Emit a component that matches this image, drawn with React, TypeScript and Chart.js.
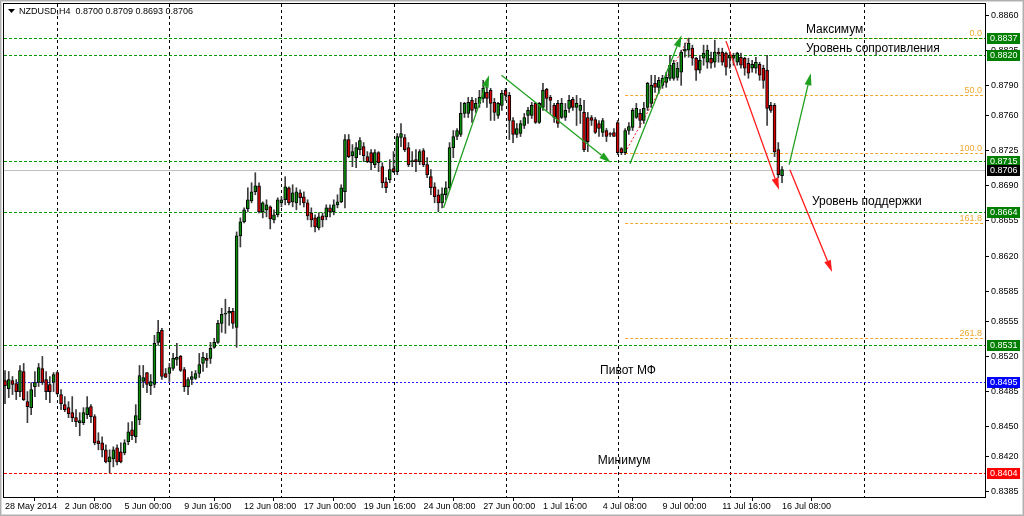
import React, { useEffect, useRef } from "react";
import { Chart, registerables } from "chart.js";
Chart.register(...registerables);

// ---- data (NZDUSD H4) ----
const opens = [
  0.8496,0.8488,0.8496,0.8493,0.8485,0.8505,0.8475,0.8469,0.8490,0.8494,
  0.8508,0.8497,0.8492,0.8494,0.8504,0.8482,0.8472,0.8469,0.8464,0.8459,
  0.8454,0.8454,0.8462,0.8470,0.8460,0.8436,0.8434,0.8427,0.8415,0.8418,
  0.8429,0.8425,0.8424,0.8435,0.8447,0.8440,0.8457,0.8495,0.8504,0.8491,
  0.8492,0.8534,0.8546,0.8503,0.8503,0.8508,0.8517,0.8520,0.8507,0.8490,
  0.8497,0.8498,0.8503,0.8513,0.8518,0.8518,0.8529,0.8534,0.8553,0.8562,
  0.8563,0.8565,0.8549,0.8640,0.8654,0.8667,0.8675,0.8684,0.8690,0.8664,
  0.8666,0.8669,0.8656,0.8661,0.8673,0.8676,0.8688,0.8674,0.8673,0.8683,
  0.8679,0.8673,0.8663,0.8658,0.8648,0.8660,0.8659,0.8668,0.8664,0.8671,
  0.8674,0.8684,0.8736,0.8720,0.8718,0.8726,0.8729,0.8719,0.8723,0.8711,
  0.8723,0.8709,0.8694,0.8696,0.8707,0.8704,0.8738,0.8738,0.8728,0.8714,
  0.8716,0.8714,0.8725,0.8711,0.8699,0.8689,0.8681,0.8673,0.8681,0.8688,
  0.8728,0.8739,0.8741,0.8762,0.8762,0.8775,0.8767,0.8772,0.8777,0.8783,
  0.8785,0.8773,0.8760,0.8770,0.8785,0.8780,0.8755,0.8741,0.8742,0.8750,
  0.8760,0.8760,0.8772,0.8753,0.8768,0.8786,0.8778,0.8770,0.8772,0.8758,
  0.8758,0.8767,0.8776,0.8768,0.8765,0.8763,0.8758,0.8758,0.8756,0.8752,
  0.8743,0.8745,0.8742,0.8743,0.8753,0.8727,0.8723,0.8745,0.8748,0.8758,
  0.8762,0.8755,0.8768,0.8772,0.8792,0.8788,0.8790,0.8793,0.8797,0.8797,
  0.8798,0.8803,0.8824,0.8825,0.8827,0.8817,0.8805,0.8817,0.8813,0.8817,
  0.8813,0.8823,0.8823,0.8822,0.8817,0.8817,0.8813,0.8818,0.8817,0.8812,
  0.8807,0.8807,0.8811,0.8807,0.8805,0.8770,0.8770,0.8726,0.8700,
];
const highs = [
  0.8506,0.8505,0.8500,0.8497,0.8511,0.8513,0.8485,0.8494,0.8505,0.8513,
  0.8520,0.8505,0.8500,0.8504,0.8505,0.8487,0.8480,0.8475,0.8480,0.8467,
  0.8464,0.8469,0.8480,0.8472,0.8462,0.8444,0.8440,0.8432,0.8427,0.8430,
  0.8432,0.8434,0.8437,0.8454,0.8455,0.8472,0.8511,0.8511,0.8504,0.8502,
  0.8541,0.8556,0.8548,0.8508,0.8513,0.8523,0.8533,0.8521,0.8509,0.8499,
  0.8505,0.8506,0.8523,0.8524,0.8523,0.8534,0.8538,0.8556,0.8568,0.8577,
  0.8569,0.8568,0.8644,0.8658,0.8668,0.8688,0.8693,0.8703,0.8693,0.8674,
  0.8676,0.8670,0.8666,0.8678,0.8679,0.8699,0.8689,0.8691,0.8688,0.8686,
  0.8684,0.8676,0.8668,0.8661,0.8663,0.8663,0.8671,0.8671,0.8676,0.8681,
  0.8691,0.8741,0.8741,0.8731,0.8733,0.8738,0.8733,0.8724,0.8726,0.8726,
  0.8724,0.8713,0.8698,0.8716,0.8724,0.8742,0.8752,0.8741,0.8733,0.8724,
  0.8726,0.8726,0.8727,0.8718,0.8706,0.8693,0.8686,0.8688,0.8694,0.8733,
  0.8745,0.8747,0.8773,0.8773,0.8778,0.8778,0.8777,0.8785,0.8795,0.8790,
  0.8787,0.8777,0.8773,0.8785,0.8787,0.8783,0.8758,0.8752,0.8755,0.8762,
  0.8768,0.8773,0.8773,0.8773,0.8792,0.8787,0.8780,0.8772,0.8775,0.8777,
  0.8772,0.8780,0.8778,0.8780,0.8777,0.8775,0.8763,0.8760,0.8758,0.8755,
  0.8757,0.8747,0.8743,0.8747,0.8755,0.8728,0.8747,0.8753,0.8767,0.8772,
  0.8766,0.8773,0.8793,0.8800,0.8800,0.8798,0.8800,0.8803,0.8820,0.8815,
  0.8813,0.8825,0.8832,0.8837,0.8830,0.8818,0.8820,0.8830,0.8830,0.8823,
  0.8835,0.8827,0.8827,0.8823,0.8823,0.8822,0.8823,0.8822,0.8818,0.8817,
  0.8815,0.8818,0.8813,0.8810,0.8820,0.8773,0.8772,0.8733,0.8709,
];
const lows = [
  0.8473,0.8479,0.8482,0.8477,0.8480,0.8476,0.8454,0.8462,0.8480,0.8490,
  0.8492,0.8477,0.8474,0.8485,0.8482,0.8467,0.8465,0.8459,0.8455,0.8450,
  0.8441,0.8452,0.8458,0.8454,0.8432,0.8427,0.8420,0.8414,0.8404,0.8410,
  0.8412,0.8414,0.8422,0.8432,0.8437,0.8434,0.8452,0.8489,0.8484,0.8482,
  0.8489,0.8531,0.8497,0.8499,0.8495,0.8506,0.8511,0.8505,0.8485,0.8482,
  0.8492,0.8497,0.8499,0.8505,0.8509,0.8513,0.8528,0.8533,0.8544,0.8543,
  0.8551,0.8548,0.8529,0.8629,0.8653,0.8664,0.8673,0.8681,0.8663,0.8658,
  0.8659,0.8647,0.8653,0.8659,0.8669,0.8671,0.8671,0.8669,0.8666,0.8671,
  0.8669,0.8656,0.8649,0.8644,0.8646,0.8649,0.8656,0.8659,0.8661,0.8668,
  0.8673,0.8668,0.8718,0.8709,0.8708,0.8721,0.8714,0.8713,0.8706,0.8708,
  0.8704,0.8688,0.8683,0.8693,0.8703,0.8701,0.8729,0.8724,0.8709,0.8709,
  0.8704,0.8711,0.8709,0.8698,0.8681,0.8673,0.8664,0.8668,0.8676,0.8686,
  0.8718,0.8736,0.8739,0.8758,0.8758,0.8753,0.8763,0.8768,0.8773,0.8768,
  0.8755,0.8755,0.8757,0.8765,0.8775,0.8736,0.8733,0.8738,0.8739,0.8747,
  0.8752,0.8757,0.8752,0.8752,0.8765,0.8765,0.8762,0.8753,0.8748,0.8757,
  0.8755,0.8763,0.8765,0.8750,0.8752,0.8724,0.8724,0.8750,0.8742,0.8739,
  0.8739,0.8734,0.8739,0.8739,0.8721,0.8721,0.8721,0.8741,0.8745,0.8757,
  0.8748,0.8752,0.8765,0.8768,0.8783,0.8782,0.8787,0.8788,0.8795,0.8795,
  0.8795,0.8790,0.8818,0.8818,0.8810,0.8795,0.8802,0.8810,0.8807,0.8807,
  0.8808,0.8813,0.8810,0.8800,0.8807,0.8810,0.8810,0.8807,0.8800,0.8797,
  0.8803,0.8802,0.8795,0.8787,0.8750,0.8763,0.8719,0.8698,0.8693,
];
const closes = [
  0.8491,0.8497,0.8492,0.8485,0.8506,0.8477,0.8470,0.8487,0.8494,0.8509,
  0.8494,0.8485,0.8485,0.8502,0.8483,0.8473,0.8467,0.8463,0.8459,0.8455,
  0.8456,0.8464,0.8469,0.8460,0.8434,0.8433,0.8427,0.8415,0.8420,0.8427,
  0.8415,0.8415,0.8434,0.8445,0.8441,0.8461,0.8501,0.8499,0.8492,0.8495,
  0.8533,0.8544,0.8500,0.8499,0.8509,0.8518,0.8519,0.8506,0.8490,0.8497,
  0.8500,0.8503,0.8512,0.8519,0.8516,0.8528,0.8534,0.8553,0.8562,0.8563,
  0.8565,0.8553,0.8640,0.8654,0.8666,0.8676,0.8684,0.8690,0.8664,0.8673,
  0.8671,0.8657,0.8661,0.8676,0.8676,0.8689,0.8673,0.8683,0.8684,0.8678,
  0.8673,0.8660,0.8656,0.8649,0.8659,0.8656,0.8668,0.8664,0.8671,0.8674,
  0.8688,0.8736,0.8719,0.8724,0.8728,0.8735,0.8720,0.8714,0.8713,0.8723,
  0.8713,0.8693,0.8688,0.8706,0.8704,0.8739,0.8742,0.8726,0.8711,0.8715,
  0.8714,0.8724,0.8711,0.8701,0.8688,0.8679,0.8673,0.8682,0.8688,0.8728,
  0.8739,0.8745,0.8762,0.8772,0.8773,0.8765,0.8772,0.8778,0.8787,0.8777,
  0.8772,0.8763,0.8772,0.8782,0.8780,0.8755,0.8741,0.8747,0.8752,0.8758,
  0.8765,0.8770,0.8753,0.8772,0.8785,0.8777,0.8775,0.8758,0.8752,0.8772,
  0.8765,0.8775,0.8768,0.8772,0.8770,0.8726,0.8734,0.8755,0.8743,0.8747,
  0.8755,0.8739,0.8741,0.8739,0.8723,0.8723,0.8745,0.8749,0.8765,0.8767,
  0.8755,0.8767,0.8792,0.8790,0.8788,0.8795,0.8797,0.8798,0.8810,0.8812,
  0.8807,0.8823,0.8826,0.8832,0.8817,0.8805,0.8815,0.8822,0.8825,0.8812,
  0.8823,0.8821,0.8813,0.8808,0.8820,0.8820,0.8822,0.8810,0.8807,0.8802,
  0.8811,0.8813,0.8800,0.8795,0.8767,0.8765,0.8724,0.8701,0.8706,
];

// time axis: label every 16 bars
const timeTickBars = [0, 16, 32, 48, 64, 80, 96, 112, 128, 144, 160, 176, 192, 208];
const timeLabels = [
  "28 May 2014", "2 Jun 08:00", "5 Jun 00:00", "9 Jun 16:00", "12 Jun 08:00",
  "17 Jun 00:00", "19 Jun 16:00", "24 Jun 08:00", "27 Jun 00:00", "1 Jul 16:00",
  "4 Jul 08:00", "9 Jul 00:00", "11 Jul 16:00", "16 Jul 08:00",
];
// weekly separators (vertical grid)
const gridBars = [14, 44, 74, 104, 134, 164, 194, 230];
// price axis ticks
const priceTicks = [0.8860, 0.8825, 0.8790, 0.8760, 0.8725, 0.8690, 0.8655, 0.8620, 0.8585, 0.8555, 0.8520, 0.8485, 0.8450, 0.8420, 0.8385];

// horizontal levels
const greenLevels = [0.8837, 0.8820, 0.8715, 0.8664, 0.8531];
const pivotLevel = 0.8495;
const minLevel = 0.8404;

// fibonacci
const fibLevels = [0, 50, 100, 161.8, 261.8];
const fibHigh = 0.8837;
const fibLow = 0.8723;
const fibStartBar = 166;
const fibEndBar = 183;

// arrows: [fromBar, fromPrice, toBar, toPrice]
const greenArrows = [
  [117.4, 0.8668, 129.6, 0.8800],
  [132.9, 0.8800, 162.2, 0.8713],
  [167.3, 0.8712, 181.1, 0.8840],
  [209.9, 0.8711, 215.7, 0.8802],
];
const redArrows = [
  [193.0, 0.8834, 207.2, 0.8686],
  [210.1, 0.8706, 221.4, 0.8604],
];

// text notes: [text, bar, price]
const notes: [string, number, number][] = [
  ["Максимум", 214.4, 0.8845],
  ["Уровень сопротивления", 214.4, 0.8826],
  ["Уровень поддержки", 216.0, 0.8674],
  ["Пивот МФ", 159.3, 0.8506],
  ["Минимум", 158.7, 0.8416],
];

const SYMBOL = "NZDUSD,H4";
const FONT = '"Liberation Sans", Arial, sans-serif';
const BULL = "#0a8a0a";
const BEAR = "#d40000";
const GREEN_LINE = "#009a00";
const GREEN_BOX = "#007f00";
const FIB = "#f0a830";

export default function App() {
  const ref = useRef<HTMLCanvasElement>(null);

  useEffect(() => {
    document.body.style.margin = "0";
    const canvas = ref.current!;
    const idx = closes.map((_, i) => i);
    const last = closes.length - 1;
    const bid = closes[last];

    const hline = (ctx: CanvasRenderingContext2D, y: number, x1: number, x2: number, color: string, dash: number[]) => {
      ctx.save();
      ctx.strokeStyle = color;
      ctx.lineWidth = 1;
      ctx.setLineDash(dash);
      ctx.beginPath();
      const yy = Math.round(y) + 0.5;
      ctx.moveTo(x1, yy);
      ctx.lineTo(x2, yy);
      ctx.stroke();
      ctx.restore();
    };

    const arrow = (ctx: CanvasRenderingContext2D, x1: number, y1: number, x2: number, y2: number, color: string) => {
      const ang = Math.atan2(y2 - y1, x2 - x1);
      const len = 12, hw = 3.5;
      const bx = x2 - len * Math.cos(ang), by = y2 - len * Math.sin(ang);
      ctx.save();
      ctx.strokeStyle = color;
      ctx.fillStyle = color;
      ctx.lineWidth = 1.3;
      ctx.beginPath();
      ctx.moveTo(x1, y1);
      ctx.lineTo(bx, by);
      ctx.stroke();
      ctx.beginPath();
      ctx.moveTo(x2, y2);
      ctx.lineTo(bx + hw * Math.sin(ang), by - hw * Math.cos(ang));
      ctx.lineTo(bx - hw * Math.sin(ang), by + hw * Math.cos(ang));
      ctx.closePath();
      ctx.fill();
      ctx.restore();
    };

    const overlay = {
      id: "overlay",
      beforeDatasetsDraw(chart: any) {
        const { ctx, chartArea: a, scales } = chart;
        const xs = scales.x, ys = scales.y;
        ctx.save();
        ctx.beginPath();
        ctx.rect(a.left, a.top, a.right - a.left, a.bottom - a.top);
        ctx.clip();
        // vertical grid
        ctx.strokeStyle = "#000";
        ctx.lineWidth = 1;
        ctx.setLineDash([3, 3]);
        for (const b of gridBars) {
          const x = Math.round(xs.getPixelForValue(b)) + 0.5;
          ctx.beginPath();
          ctx.moveTo(x, a.top);
          ctx.lineTo(x, a.bottom);
          ctx.stroke();
        }
        ctx.setLineDash([]);
        // fib levels
        const fx = xs.getPixelForValue(fibStartBar);
        ctx.font = `9px ${FONT}`;
        ctx.fillStyle = FIB;
        ctx.textAlign = "right";
        ctx.textBaseline = "bottom";
        for (const lv of fibLevels) {
          const p = fibHigh - (fibHigh - fibLow) * lv / 100;
          const y = ys.getPixelForValue(p);
          hline(ctx, y, fx, a.right, FIB, [3, 2]);
          ctx.fillText(lv.toFixed(1), a.right - 3, Math.round(y));
        }
        // fib trend line
        ctx.save();
        ctx.strokeStyle = "#ff2020";
        ctx.setLineDash([2, 2]);
        ctx.beginPath();
        ctx.moveTo(fx, ys.getPixelForValue(fibLow));
        ctx.lineTo(xs.getPixelForValue(fibEndBar), ys.getPixelForValue(fibHigh));
        ctx.stroke();
        ctx.restore();
        // horizontal levels
        for (const lv of greenLevels) hline(ctx, ys.getPixelForValue(lv), a.left, a.right, GREEN_LINE, [3, 2]);
        hline(ctx, ys.getPixelForValue(pivotLevel), a.left, a.right, "#2020ff", [2, 2]);
        hline(ctx, ys.getPixelForValue(minLevel), a.left, a.right, "#ff0000", [3, 2]);
        hline(ctx, ys.getPixelForValue(bid), a.left, a.right, "#c0c0c0", []);
        ctx.restore();
      },
      afterDatasetsDraw(chart: any) {
        const { ctx, chartArea: a, scales } = chart;
        const xs = scales.x, ys = scales.y;
        ctx.save();
        ctx.beginPath();
        ctx.rect(a.left, a.top, a.right - a.left, a.bottom - a.top);
        ctx.clip();
        for (const [b1, p1, b2, p2] of greenArrows)
          arrow(ctx, xs.getPixelForValue(b1), ys.getPixelForValue(p1), xs.getPixelForValue(b2), ys.getPixelForValue(p2), "#20a020");
        for (const [b1, p1, b2, p2] of redArrows)
          arrow(ctx, xs.getPixelForValue(b1), ys.getPixelForValue(p1), xs.getPixelForValue(b2), ys.getPixelForValue(p2), "#ff1a1a");
        ctx.fillStyle = "#000";
        ctx.font = `12px ${FONT}`;
        ctx.textAlign = "left";
        ctx.textBaseline = "middle";
        for (const [t, b, p] of notes) ctx.fillText(t, xs.getPixelForValue(b), ys.getPixelForValue(p));
        // header
        ctx.beginPath();
        ctx.moveTo(a.left + 4, 9);
        ctx.lineTo(a.left + 11, 9);
        ctx.lineTo(a.left + 7.5, 13);
        ctx.closePath();
        ctx.fill();
        ctx.font = `9px ${FONT}`;
        const hdr = `${SYMBOL}  ${opens[last].toFixed(4)} ${highs[last].toFixed(4)} ${lows[last].toFixed(4)} ${closes[last].toFixed(4)}`;
        ctx.fillText(hdr, a.left + 15, 12);
        ctx.restore();
      },
      afterDraw(chart: any) {
        const { ctx, chartArea: a, scales } = chart;
        const ys = scales.y;
        ctx.save();
        // frame
        ctx.strokeStyle = "#000";
        ctx.lineWidth = 1;
        ctx.strokeRect(a.left - 0.5, a.top - 0.5, a.right - a.left + 1, a.bottom - a.top + 1);
        ctx.strokeStyle = "#b0b0b0";
        ctx.strokeRect(0.5, 0.5, chart.width - 1, chart.height - 1);
        ctx.strokeStyle = "#d8d8d8";
        ctx.strokeRect(1.5, 1.5, chart.width - 3, chart.height - 3);
        // price boxes
        const boxes: [number, string][] = [
          ...greenLevels.map((v) => [v, GREEN_BOX] as [number, string]),
          [bid, "#000000"],
          [pivotLevel, "#0000ff"],
          [minLevel, "#ff0000"],
        ];
        ctx.font = `9px ${FONT}`;
        ctx.textAlign = "left";
        ctx.textBaseline = "middle";
        for (const [v, c] of boxes) {
          const y = Math.round(ys.getPixelForValue(v));
          ctx.fillStyle = c;
          ctx.fillRect(a.right + 2, y - 5, 33, 11);
          ctx.fillStyle = "#fff";
          ctx.fillText(v.toFixed(4), a.right + 5, y + 0.5);
        }
        ctx.restore();
      },
    };

    const chart = new Chart(canvas, {
      type: "bar",
      data: {
        datasets: [
          {
            label: "wicks",
            data: idx.map((i) => ({ x: i, y: [lows[i], highs[i]] })) as any,
            backgroundColor: "#3c3c3c",
            barThickness: 1,
            grouped: false,
            order: 2,
            minBarLength: 1,
          } as any,
          {
            label: "bodies",
            data: idx.map((i) => ({ x: i, y: [opens[i], closes[i]] })) as any,
            backgroundColor: idx.map((i) => (closes[i] >= opens[i] ? BULL : BEAR)),
            borderColor: "#000",
            borderWidth: 1,
            borderSkipped: false,
            barThickness: 3,
            grouped: false,
            order: 1,
            minBarLength: 1,
          } as any,
        ],
      },
      options: {
        responsive: false,
        maintainAspectRatio: false,
        animation: false,
        events: [],
        layout: { padding: { left: 4, top: 4, right: 0, bottom: 0 } },
        plugins: { legend: { display: false }, tooltip: { enabled: false } },
        scales: {
          x: {
            type: "linear",
            min: -0.27,
            max: 262.33,
            offset: false,
            grid: { drawOnChartArea: false, drawTicks: true, tickLength: 4, color: "#000" },
            border: { display: true, color: "#000" },
            afterBuildTicks: (s: any) => { s.ticks = timeTickBars.map((v) => ({ value: v })); },
            afterFit: (s: any) => { s.height = 19; s.paddingLeft = 0; s.paddingRight = 0; },
            ticks: {
              autoSkip: false,
              maxRotation: 0,
              minRotation: 0,
              align: "start",
              padding: 0,
              color: "#000",
              font: { family: FONT, size: 9 },
              callback: (_v: any, i: number) => timeLabels[i],
            },
          } as any,
          y: {
            type: "linear",
            position: "right",
            min: 0.8380,
            max: 0.8871,
            grid: { drawOnChartArea: false, drawTicks: true, tickLength: 4, color: "#000" },
            border: { display: true, color: "#000" },
            afterBuildTicks: (s: any) => { s.ticks = priceTicks.map((v) => ({ value: v })); },
            afterFit: (s: any) => { s.width = 39; s.paddingTop = 0; s.paddingBottom = 0; },
            ticks: {
              padding: 2,
              color: "#000",
              font: { family: FONT, size: 9 },
              callback: (v: any) => Number(v).toFixed(4),
            },
          } as any,
        },
      },
      plugins: [overlay],
    });
    return () => chart.destroy();
  }, []);

  return (
    <div style={{ width: 1024, height: 516, background: "#fff" }}>
      <canvas ref={ref} width={1024} height={516} style={{ display: "block" }} />
    </div>
  );
}
